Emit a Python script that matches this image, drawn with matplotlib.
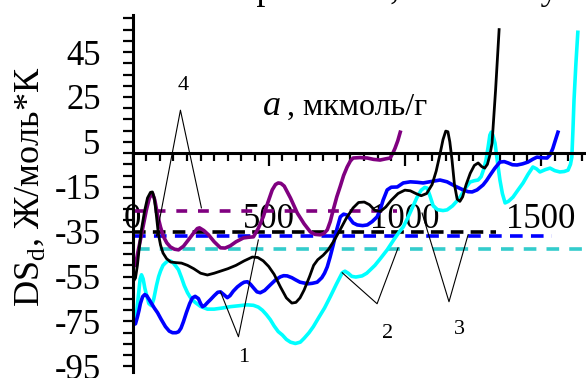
import numpy as np
import matplotlib
matplotlib.use('Agg')
import matplotlib.pyplot as plt
from matplotlib.ticker import MultipleLocator, FixedLocator

plt.rcParams['font.family'] = ['Liberation Serif', 'DejaVu Serif']
plt.rcParams['axes.unicode_minus'] = False

# curve data: a (мкмоль/г), DS (Ж/моль*К)
black_a = [4, 11, 18, 25, 33, 44, 55, 66, 73, 80, 87, 95, 103, 112, 125, 140, 160, 180, 202, 225, 250,
           275, 300, 325, 350, 380, 410, 440, 460, 480, 500, 520, 543, 565, 585, 600, 615, 630, 650,
           665, 680, 700, 719, 740, 763, 785, 810, 830, 851, 870, 890, 910, 930, 950, 975, 1000, 1020,
           1040, 1060, 1080, 1100, 1115, 1128, 1140, 1150, 1158, 1165, 1173, 1182, 1192, 1202, 1212,
           1225, 1240, 1255, 1269, 1282, 1293, 1303, 1312, 1320, 1333, 1346]
black_v = [-57, -55.6, -50, -42, -34, -26, -20, -17.5, -17.3, -20, -27, -36, -41, -44.5, -47, -48.5,
           -48.8, -49, -50, -51.5, -53.5, -54.3, -53.5, -52.5, -51.5, -50, -48, -46.3, -46.5, -48,
           -50.5, -54, -59.6, -64.5, -66.8, -66.5, -64.5, -61, -55, -50, -47.5, -45.5, -43, -39, -34,
           -29, -24.4, -22, -21.8, -23, -25.5, -26, -24, -21, -18, -16.5, -16.8, -18, -19, -18, -14,
           -8, -1, 6, 9.8, 9.5, 5, -3, -14, -20.5, -21.5, -19.5, -14, -9, -5.5, -4.4, -6, -6.7, -5,
           -1, 4.4, 28, 55]

cyan_a = [11, 16, 22, 28, 33, 39, 45, 51, 60, 70, 78, 88, 96, 103, 112, 121, 130, 139, 150, 160, 169,
          180, 190, 202, 215, 230, 250, 275, 300, 330, 359, 390, 420, 444, 462, 477, 492, 506, 520,
          535, 550, 565, 580, 598, 616, 630, 648, 664, 685, 705, 726, 748, 770, 780, 792, 805, 820,
          843, 860, 873, 890, 910, 935, 960, 980, 994, 1010, 1025, 1045, 1060, 1073, 1082, 1092, 1104,
          1120, 1140, 1155, 1175, 1190, 1203, 1220, 1239, 1255, 1269, 1280, 1290, 1298, 1306, 1312,
          1317, 1323, 1331, 1340, 1349, 1358, 1368, 1380, 1397, 1415, 1434, 1452, 1470, 1483, 1496,
          1515, 1533, 1550, 1569, 1585, 1599, 1608, 1613, 1617, 1621, 1628, 1635]
cyan_v = [-74.2, -70, -63, -56, -54.2, -56, -60, -63, -67, -68, -65, -59, -55, -52.5, -50, -48.9, -48,
          -48, -49, -50.5, -52, -55.5, -59, -62.2, -64.8, -66.5, -68.3, -69.5, -69.5, -69, -68.4, -68,
          -67.6, -67.8, -68.6, -70, -72, -74.2, -77, -79.5, -81, -83, -84.2, -84.8, -84.2, -82.5, -80,
          -77.3, -73, -69, -64, -58.5, -53.3, -52.6, -53.5, -54.9, -55.2, -54.7, -53.5, -52, -50,
          -47, -43.1, -38.5, -35, -32.9, -29, -25, -19.6, -16.5, -15.3, -15.6, -19, -23.5, -25.2,
          -25.6, -25.3, -23.5, -21.5, -19.6, -16, -12.9, -12.3, -12, -10.5, -7, -3, 3, 8, 9.3, 8,
          4.4, -4, -12, -18, -22.2, -21.5, -19.6, -16.5, -13.3, -9.5, -6.2, -7, -8.4, -7.4, -6.7,
          -7.8, -8.4, -8.2, -7.6, -5, -1.8, 10, 23.6, 40, 53.8]

blue_a = [4, 11, 18, 24, 29, 37, 45, 52, 60, 70, 80, 92, 105, 121, 135, 147, 160, 169, 178, 187, 198,
          210, 220, 230, 242, 250, 257, 266, 276, 286, 300, 313, 323, 335, 348, 358, 370, 385, 400,
          410, 422, 433, 444, 457, 469, 485, 506, 525, 543, 555, 568, 585, 598, 615, 627, 645, 660,
          678, 695, 705, 715, 725, 737, 750, 763, 775, 788, 800, 810, 825, 845, 862, 880, 898, 910,
          920, 935, 950, 972, 994, 1020, 1045, 1067, 1095, 1129, 1155, 1184, 1214, 1232, 1247, 1265,
          1287, 1300, 1313, 1330, 1349, 1365, 1379, 1395, 1412, 1432, 1452, 1470, 1485, 1505, 1522,
          1533, 1543, 1552, 1562]
blue_v = [-76.4, -76, -73, -70, -67, -64, -63, -63.5, -65, -67, -69, -71.1, -74, -77.3, -79.3, -80,
          -80, -79.6, -78, -75.1, -71, -67, -64.5, -63.8, -64.8, -67, -68.4, -67.8, -66.5, -65.3,
          -63.5, -62, -61.8, -63, -64.4, -63.5, -61.5, -59.6, -58.2, -57.5, -57.3, -58.4, -60, -61.8,
          -62.2, -61.2, -58.7, -56.5, -55.1, -54.6, -54.7, -55.5, -56.4, -57.5, -57.8, -58.2, -58,
          -57.5, -55.5, -53.5, -50.7, -46.5, -40.9, -34, -28.4, -27.2, -27.6, -29.5, -31.1, -32,
          -32.3, -32, -30.5, -28.4, -25, -21, -16.4, -15.2, -15.1, -13.3, -12.8, -13, -13.3, -12.7,
          -12, -12.8, -14.7, -16.4, -17.2, -17.3, -16.4, -14.2, -12.2, -9.8, -6.8, -4, -3.8, -4.4,
          -5.2, -5.3, -4.8, -4, -2.7, -1.8, -2.1, -2.2, -0.8, 2, 5.5, 9.3]

purple_a = [4, 11, 20, 29, 40, 51, 62, 73, 82, 92, 103, 114, 126, 139, 154, 169, 187, 205, 225, 238,
            246, 262, 279, 300, 323, 340, 359, 380, 407, 425, 444, 462, 480, 497, 513, 525, 535, 545,
            557, 580, 605, 630, 653, 670, 689, 703, 715, 726, 737, 750, 763, 775, 788, 800, 810, 835,
            862, 885, 909, 928, 946, 956, 964, 974, 983]
purple_v = [-50.5, -49.8, -44, -38.7, -32, -25.3, -20, -17.8, -21, -27.6, -33, -37.3, -40, -41.8, -42.8,
            -43.1, -41.5, -38.7, -35.5, -33.6, -33.3, -34.5, -36.4, -39.5, -42.2, -42.3, -41.3, -39.5,
            -37.8, -37.5, -37.3, -33.5, -28.4, -22, -16.4, -14, -13.3, -13.5, -14.7, -20, -26.7, -31.5,
            -35.1, -36.2, -36.4, -35.8, -34.2, -30.5, -25.3, -19.5, -14.7, -10, -6.2, -3.5, -2.2, -2,
            -2.2, -2.8, -3.1, -2.6, -2.2, 0, 2.2, 5.5, 9.3]

# average levels (dashed): value, start, end
purple_mean = (-25.6, 0, 970)
black_mean = (-35.1, 0, 1333)
blue_mean = (-36.9, 0, 1542)
cyan_mean = (-42.7, 15, 1670)

# leader lines for curve numbers: (label, label pos, [left, vertex, right])
leaders = [
    ('4', (187, 30), [(88, -36.9), (176, 19.1), (253, -24.4)]),
    ('1', (407, -91), [(323, -61.8), (389, -81.8), (462, -38.7)]),
    ('2', (935, -80.4), [(770, -53.3), (898, -67.1), (975, -42.2)]),
    ('3', (1199, -78.7), [(1063, -26.7), (1162, -66.2), (1232, -36.4)]),
]

fig = plt.figure(figsize=(5.86, 3.78), dpi=100)
ax = fig.add_axes([132.5 / 586, 6 / 378, (586 - 132.5) / 586, 357 / 378])
ax.set_xlim(0, 1665)
ax.set_ylim(-97.5, 61.5)
ax.patch.set_alpha(0)

for (v, a0, a1), c, dash in [(purple_mean, '#800080', (3, 3)),
                             (black_mean, 'black', (3.5, 2)),
                             (blue_mean, '#0000ff', (3.5, 2.3)),
                             (cyan_mean, '#33cccc', (3.5, 2.8))]:
    ax.plot([a0, a1], [v, v], color=c, lw=2.6, dashes=dash)

ax.plot(purple_a, purple_v, color='#800080', lw=2.6)
ax.plot(cyan_a, cyan_v, color='#00ffff', lw=2.6)
ax.plot(blue_a, blue_v, color='#0000ff', lw=2.6)
ax.plot(black_a, black_v, color='black', lw=2.0)

for lab, (la, lv), pts in leaders:
    xs = [p[0] for p in pts]
    ys = [p[1] for p in pts]
    ax.plot(xs, ys, color='black', lw=0.8)
    ax.text(la, lv, lab, fontsize=16, ha='center', va='center')

for s in ['top', 'right']:
    ax.spines[s].set_visible(False)
ax.spines['left'].set_position(('data', 0))
ax.spines['bottom'].set_position(('data', 0))
ax.spines['left'].set_linewidth(2.2)
ax.spines['bottom'].set_linewidth(2.2)

ax.yaxis.set_major_locator(FixedLocator([-95, -75, -55, -35, -15, 5, 25, 45]))
ax.yaxis.set_minor_locator(MultipleLocator(5))
ax.tick_params(axis='y', which='both', direction='out', length=7, width=1.6, labelsize=25, pad=16)
ax.xaxis.set_major_locator(MultipleLocator(500))
ax.xaxis.set_minor_locator(MultipleLocator(50))
ax.tick_params(axis='x', which='major', direction='out', length=9, width=1.6, labelsize=25, pad=27)
ax.tick_params(axis='x', which='minor', direction='out', length=6, width=1.6)

fig.text(30 / 586, 1 - 187 / 378, 'DS$_\\mathregular{d}$, Ж/моль*К', rotation=90,
         fontsize=26, ha='center', va='center')
fig.text(263 / 586, 1 - 115 / 378, 'a', fontsize=26, style='italic', va='baseline')
fig.text(287 / 586, 1 - 115 / 378, ', мкмоль/г', fontsize=23, va='baseline')
fig.text(237 / 586, 1 + 1 / 378, 'при 303 К, на основу', fontsize=26, va='baseline')

fig.savefig('out.png', dpi=100)
